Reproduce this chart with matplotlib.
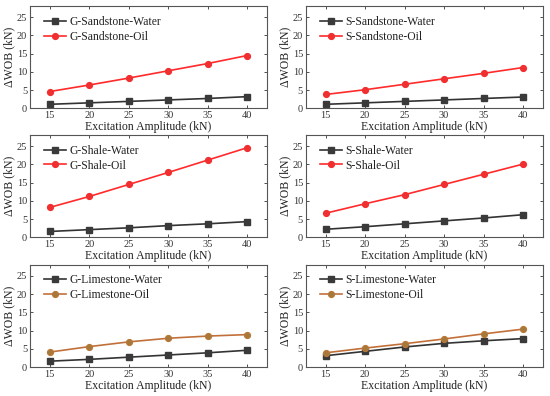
import matplotlib
matplotlib.use('Agg')
import matplotlib.pyplot as plt

plt.rcParams['font.family'] = ['Liberation Serif', 'DejaVu Serif']

# excitation amplitude (kN)
amp = [15, 20, 25, 30, 35, 40]

g_sand_water = [1.1, 1.5, 1.9, 2.3, 2.7, 3.2]
g_sand_oil = [4.6, 6.4, 8.3, 10.3, 12.3, 14.5]
s_sand_water = [1.1, 1.5, 1.9, 2.3, 2.7, 3.1]
s_sand_oil = [3.8, 5.1, 6.6, 8.1, 9.6, 11.2]
g_shale_water = [1.6, 2.1, 2.6, 3.2, 3.7, 4.3]
g_shale_oil = [8.2, 11.2, 14.5, 17.8, 21.2, 24.6]
s_shale_water = [2.2, 2.9, 3.7, 4.5, 5.3, 6.2]
s_shale_oil = [6.6, 9.2, 11.7, 14.5, 17.3, 20.1]
g_lime_water = [1.6, 2.1, 2.7, 3.3, 3.9, 4.6]
g_lime_oil = [4.1, 5.6, 6.9, 7.9, 8.5, 8.9]
s_lime_water = [3.1, 4.3, 5.5, 6.5, 7.2, 7.8]
s_lime_oil = [3.9, 5.2, 6.4, 7.7, 9.1, 10.4]

panels = [
    ('G-Sandstone', g_sand_water, g_sand_oil, 'red'),
    ('S-Sandstone', s_sand_water, s_sand_oil, 'red'),
    ('G-Shale', g_shale_water, g_shale_oil, 'red'),
    ('S-Shale', s_shale_water, s_shale_oil, 'red'),
    ('G-Limestone', g_lime_water, g_lime_oil, 'brown'),
    ('S-Limestone', s_lime_water, s_lime_oil, 'brown'),
]

fig = plt.figure(figsize=(5.5, 3.96), dpi=100)

lefts = [0.0545, 0.556]
bottoms = [0.7265, 0.4008, 0.0732]
w, h = 0.431, 0.2575

for i, (name, water, oil, kind) in enumerate(panels):
    ax = fig.add_axes([lefts[i % 2], bottoms[i // 2], w, h])
    ax.plot(amp, water, '-s', color='#333333', lw=1.2, ms=3.8,
            markerfacecolor='#3a3a3a', markeredgecolor='#3a3a3a', label=name + '-Water')
    if kind == 'red':
        ax.plot(amp, oil, '-o', color='#ff2a2a', lw=1.2, ms=4.2,
                markerfacecolor='#f03030', markeredgecolor='#f03030', label=name + '-Oil')
    else:
        ax.plot(amp, oil, '-o', color='#c2703a', lw=1.2, ms=4.2,
                markerfacecolor='#a47a3c', markeredgecolor='#b87838', label=name + '-Oil')
    ax.set_xlim(12.5, 42.5)
    ax.set_ylim(0, 28)
    ax.set_xticks(amp)
    ax.set_yticks([0, 5, 10, 15, 20, 25])
    ax.tick_params(direction='in', length=2, width=0.6, labelsize=7.5, colors='#333333',
                   top=True, right=True, pad=2)
    for sp in ax.spines.values():
        sp.set_color('#555555')
        sp.set_linewidth(0.8)
    ax.set_xlabel('Excitation Amplitude (kN)', fontsize=8.5, labelpad=1, color='#222222')
    ax.set_ylabel('ΔWOB (kN)', fontsize=8.5, labelpad=1, color='#222222')
    ax.legend(loc='upper left', frameon=False, fontsize=8.4, handlelength=1.9,
              handletextpad=0.3, labelspacing=0.25, borderaxespad=0.4,
              bbox_to_anchor=(0.02, 1.0), labelcolor='#222222')

fig.savefig('out.png', dpi=100)
